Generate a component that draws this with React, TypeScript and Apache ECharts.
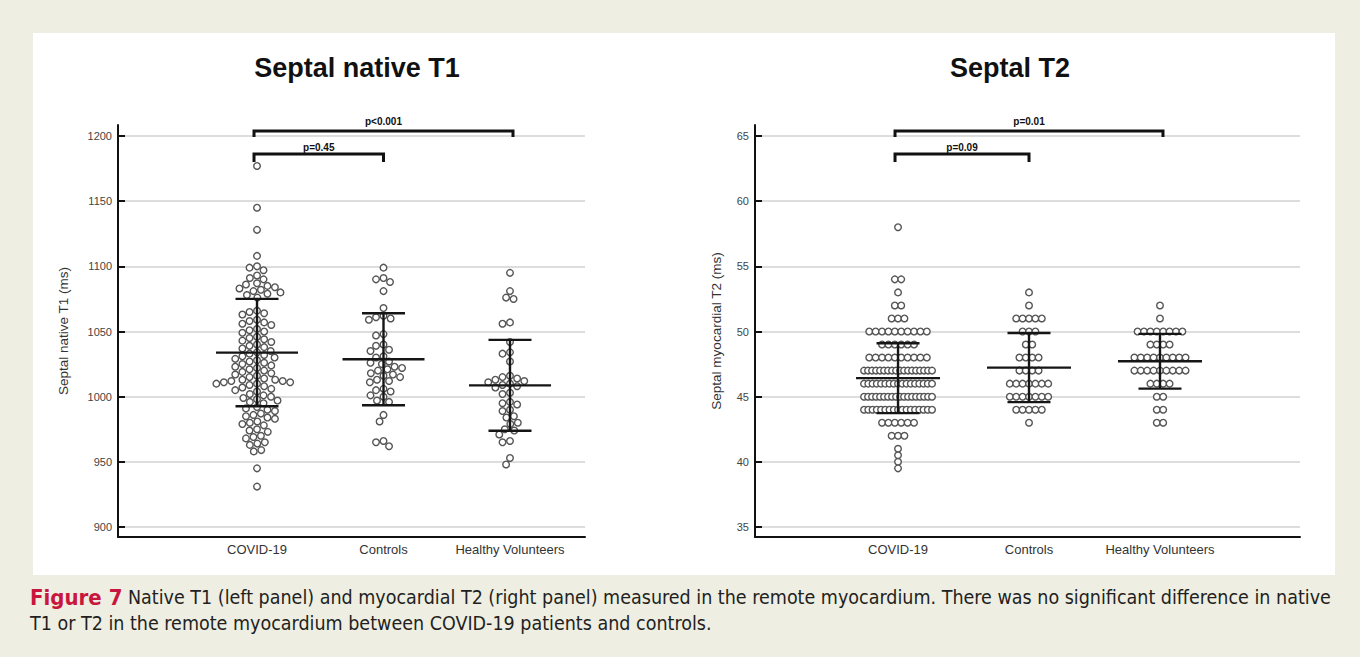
import React, { useEffect, useRef } from 'react';
import * as echarts from 'echarts';

const categories = ['COVID-19', 'Controls', 'Healthy Volunteers'];

// ---- Septal native T1 (ms): individual values
const t1Covid = [
  1177, 1145, 1128, 1108,
  1097, 1099, 1100,
  1090, 1091, 1093,
  1083, 1084, 1085, 1086, 1087,
  1076, 1078, 1079, 1080, 1081, 1082,
  1063, 1064, 1065, 1066,
  1055, 1056, 1057, 1058, 1059,
  1049, 1050, 1051, 1052,
  1042, 1043, 1044, 1045, 1046,
  1037, 1038, 1039, 1040,
  1030, 1031, 1032, 1033, 1034, 1035,
  1024, 1025, 1026, 1027, 1028, 1029,
  1018, 1019, 1020, 1021, 1022, 1023,
  1013, 1014, 1015, 1016, 1017,
  1009, 1010, 1010, 1011, 1011, 1012, 1012, 1013,
  1004, 1005, 1006, 1007, 1008,
  999, 1000, 1001, 1002,
  995, 996, 997, 998,
  989, 990, 991, 992,
  983, 984, 985, 986, 987,
  978, 979, 980, 981,
  973, 974, 975,
  968, 969, 970,
  963, 964, 965,
  958, 959,
  945, 931,
];
const t1Controls = [
  1099,
  1088, 1090, 1091,
  1081,
  1068,
  1059, 1060, 1061, 1062,
  1047, 1048,
  1039, 1040,
  1035, 1036,
  1030, 1031,
  1025, 1026, 1027,
  1020, 1021, 1022, 1023,
  1015, 1016, 1017, 1018,
  1011, 1012, 1013,
  1004, 1005, 1006,
  1000, 1001,
  996, 997,
  986,
  981,
  965, 966,
  962,
];
const t1Healthy = [
  1095,
  1081, 1075, 1076,
  1056, 1057,
  1042,
  1033, 1034,
  1027,
  1014, 1015, 1016,
  1010, 1011, 1012, 1013,
  1007, 1008, 1009,
  1002, 1003,
  994, 995, 996,
  989, 990,
  984, 985,
  979, 980,
  974, 975,
  971,
  965, 966,
  953,
  948,
];
const t1Mean = [1033.8, 1028.7, 1008.7];
const t1Sd = [41.2, 35.3, 34.9];
const t1Ticks = [900, 950, 1000, 1050, 1100, 1150, 1200];

// ---- Septal T2 (ms): distinct values and how many patients share each
const t2CovidValues = [58, 54, 53, 52, 51, 50, 49, 48, 47, 46, 45, 44, 43, 42, 41, 40.5, 40, 39.5];
const t2CovidCounts = [1, 2, 1, 2, 3, 10, 6, 10, 18, 17, 18, 17, 6, 3, 1, 1, 1, 1];
const t2ControlsValues = [53, 52, 51, 50, 49, 48, 47, 46, 45, 44, 43];
const t2ControlsCounts = [1, 1, 5, 3, 2, 4, 4, 7, 7, 5, 1];
const t2HealthyValues = [52, 51, 50, 49, 48, 47, 46, 45, 44, 43];
const t2HealthyCounts = [1, 1, 8, 4, 9, 9, 4, 2, 2, 2];
const t2Mean = [46.42, 47.23, 47.72];
const t2Sd = [2.68, 2.65, 2.1];
const t2Ticks = [35, 40, 45, 50, 55, 60, 65];

// ---- significance brackets
const t1Brackets = [
  { from: 1, to: 3, label: 'p<0.001' },
  { from: 1, to: 2, label: 'p=0.45' },
];
const t2Brackets = [
  { from: 1, to: 3, label: 'p=0.01' },
  { from: 1, to: 2, label: 'p=0.09' },
];

const titles = ['Septal native T1', 'Septal T2'];
const yNames = ['Septal native T1 (ms)', 'Septal myocardial T2 (ms)'];
const captionBold = 'Figure 7';
const captionLine1 =
  ' Native T1 (left panel) and myocardial T2 (right panel) measured in the remote myocardium. There was no significant difference in native';
const captionLine2 = 'T1 or T2 in the remote myocardium between COVID-19 patients and controls.';

// ---------------------------------------------------------------
const FONT = "'Liberation Sans', Arial, Helvetica, sans-serif";
const CAPTION_FONT = "'Liberation Sans Narrow', 'DejaVu Sans Condensed', 'Liberation Sans', sans-serif";
const R = 3.3;
const SWARM_D = 7.6;
const ROW_STEP = 6.4;
const ROW_MAX_SPAN = 68;

function expand(values: number[], counts: number[]) {
  const out: number[] = [];
  values.forEach((v, i) => {
    for (let k = 0; k < counts[i]; k++) out.push(v);
  });
  return out;
}

function swarmOffsets(ys: number[], d: number): number[] {
  const order = ys.map((_, i) => i).sort((a, b) => ys[a] - ys[b]);
  const placed: { x: number; y: number }[] = [];
  const out = new Array(ys.length).fill(0);
  for (const i of order) {
    const y = ys[i];
    const iv: [number, number][] = [];
    for (const p of placed) {
      const dy = Math.abs(p.y - y);
      if (dy < d) {
        const dx = Math.sqrt(d * d - dy * dy);
        iv.push([p.x - dx, p.x + dx]);
      }
    }
    const cands = [0];
    iv.forEach(([a, b]) => cands.push(a, b));
    cands.sort((a, b) => Math.abs(a) - Math.abs(b) || a - b);
    let chosen = 0;
    for (const c of cands) {
      if (iv.every(([a, b]) => c <= a + 1e-6 || c >= b - 1e-6)) {
        chosen = c;
        break;
      }
    }
    out[i] = chosen;
    placed.push({ x: chosen, y });
  }
  return out;
}

function rowOffsets(vals: number[]): number[] {
  const out = new Array(vals.length).fill(0);
  const groups = new Map<number, number[]>();
  vals.forEach((v, i) => {
    if (!groups.has(v)) groups.set(v, []);
    groups.get(v)!.push(i);
  });
  groups.forEach((idx) => {
    const n = idx.length;
    const step = n > 1 ? Math.min(ROW_STEP, ROW_MAX_SPAN / (n - 1)) : 0;
    idx.forEach((i, k) => {
      out[i] = (k - (n - 1) / 2) * step;
    });
  });
  return out;
}

function pointsSeries(panel: number, groups: number[][], mode: 'swarm' | 'rows') {
  const data: number[][] = [];
  groups.forEach((vals, gi) => vals.forEach((v) => data.push([gi + 1, v])));
  let offsets: number[] | null = null;
  return {
    type: 'custom',
    xAxisIndex: panel,
    yAxisIndex: panel,
    data,
    z: 3,
    silent: true,
    clip: false,
    renderItem: (params: any, api: any) => {
      if (!offsets) {
        const off = new Array(data.length).fill(0);
        groups.forEach((_, gi) => {
          const idx = data.map((_, i) => i).filter((i) => data[i][0] === gi + 1);
          const res =
            mode === 'swarm'
              ? swarmOffsets(idx.map((i) => api.coord([data[i][0], data[i][1]])[1]), SWARM_D)
              : rowOffsets(idx.map((i) => data[i][1]));
          idx.forEach((i, k) => (off[i] = res[k]));
        });
        offsets = off;
      }
      const p = api.coord([api.value(0), api.value(1)]);
      return {
        type: 'circle',
        shape: { cx: p[0] + offsets[params.dataIndex], cy: p[1], r: R },
        style: { fill: '#ffffff', stroke: '#555555', lineWidth: 1.4 },
      };
    },
  };
}

function errorSeries(panel: number, means: number[], sds: number[], halfMean: number, halfCap: number) {
  return {
    type: 'custom',
    xAxisIndex: panel,
    yAxisIndex: panel,
    z: 5,
    silent: true,
    data: means.map((m, i) => [i + 1, m, sds[i]]),
    renderItem: (_params: any, api: any) => {
      const c = api.value(0);
      const m = api.value(1);
      const s = api.value(2);
      const pm = api.coord([c, m]);
      const pt = api.coord([c, m + s]);
      const pb = api.coord([c, m - s]);
      const st = { stroke: '#151515', lineWidth: 2.4 };
      return {
        type: 'group',
        children: [
          { type: 'line', shape: { x1: pm[0] - halfMean, y1: pm[1], x2: pm[0] + halfMean, y2: pm[1] }, style: st },
          { type: 'line', shape: { x1: pm[0], y1: pt[1], x2: pm[0], y2: pb[1] }, style: st },
          { type: 'line', shape: { x1: pm[0] - halfCap, y1: pt[1], x2: pm[0] + halfCap, y2: pt[1] }, style: st },
          { type: 'line', shape: { x1: pm[0] - halfCap, y1: pb[1], x2: pm[0] + halfCap, y2: pb[1] }, style: st },
        ],
      };
    },
  };
}

// bracket level geometry: bar offset below grid top, leg length, label offset
const BRACKET_LEVELS = [
  { bar: 6, leg: 6, text: -10 },
  { bar: 29, leg: 8, text: -6.5 },
];

function bracketSeries(panel: number, brackets: { from: number; to: number; label: string }[], yMax: number) {
  return {
    type: 'custom',
    xAxisIndex: panel,
    yAxisIndex: panel,
    z: 6,
    silent: true,
    clip: false,
    data: brackets.map((b) => [b.from, b.to]),
    renderItem: (params: any, api: any) => {
      const b = brackets[params.dataIndex];
      const lv = BRACKET_LEVELS[params.dataIndex];
      const top = api.coord([b.from, yMax])[1];
      const x1 = api.coord([b.from, yMax])[0] - 3;
      const x2 = api.coord([b.to, yMax])[0] + (b.to === 3 ? 3 : 0);
      const yb = top + lv.bar;
      return {
        type: 'group',
        children: [
          {
            type: 'polyline',
            shape: { points: [[x1, yb + lv.leg], [x1, yb], [x2, yb], [x2, yb + lv.leg]] },
            style: { stroke: '#111', lineWidth: 3, fill: 'none' },
          },
          {
            type: 'text',
            style: {
              x: (x1 + x2) / 2,
              y: yb + lv.text,
              text: b.label,
              textAlign: 'center',
              textVerticalAlign: 'middle',
              font: `bold 10px ${FONT}`,
              fill: '#111',
            },
          },
        ],
      };
    },
  };
}

function makeX(gridIndex: number, min: number, max: number) {
  return {
    type: 'value',
    gridIndex,
    min,
    max,
    axisLine: { show: true, onZero: false, lineStyle: { color: '#111', width: 2 } },
    axisTick: { show: false, customValues: [1, 2, 3] },
    splitLine: { show: false },
    axisLabel: {
      customValues: [1, 2, 3],
      formatter: (v: number) => categories[Math.round(v) - 1] ?? '',
      fontSize: 13,
      color: '#333',
      margin: 6,
      fontFamily: FONT,
    },
  };
}

function makeY(gridIndex: number, min: number, max: number, ticks: number[], name: string, nameGap: number) {
  return {
    type: 'value',
    gridIndex,
    min,
    max,
    name,
    nameLocation: 'middle',
    nameGap,
    nameTextStyle: { fontSize: 13.5, color: '#333', fontFamily: FONT },
    axisLine: { show: true, onZero: false, lineStyle: { color: '#111', width: 2 } },
    axisTick: { show: true, inside: true, length: 7, customValues: ticks, lineStyle: { color: '#111', width: 2 } },
    axisLabel: {
      customValues: ticks,
      formatter: (v: number) => String(v),
      fontSize: 11,
      color: '#444',
      margin: 6,
      fontFamily: FONT,
    },
    splitLine: { show: true, lineStyle: { color: '#d2d2d2', width: 1.5 } },
  };
}

const T1_MIN = 892.33;
const T1_MAX = 1208.44;
const T2_MIN = 34.233;
const T2_MAX = 65.844;

function buildOption() {
  return {
    animation: false,
    backgroundColor: '#eeeee3',
    grid: [
      { left: 118, top: 125, width: 467, height: 412 },
      { left: 755, top: 125, width: 545, height: 412 },
    ],
    xAxis: [makeX(0, -0.099, 3.593), makeX(1, -0.092, 4.069)],
    yAxis: [
      makeY(0, T1_MIN, T1_MAX, t1Ticks, yNames[0], 48),
      makeY(1, T2_MIN, T2_MAX, t2Ticks, yNames[1], 32),
    ],
    graphic: [
      { type: 'rect', z: -10, shape: { x: 33, y: 33, width: 1302, height: 542 }, style: { fill: '#ffffff' } },
      {
        type: 'text',
        x: 357,
        y: 68,
        style: { text: titles[0], textAlign: 'center', textVerticalAlign: 'middle', font: `bold 27px ${FONT}`, fill: '#111' },
      },
      {
        type: 'text',
        x: 1010,
        y: 68,
        style: { text: titles[1], textAlign: 'center', textVerticalAlign: 'middle', font: `bold 27px ${FONT}`, fill: '#111' },
      },
      {
        type: 'text',
        x: 30,
        y: 597,
        style: {
          text: `{b|${captionBold}}{n|${captionLine1}}`,
          textVerticalAlign: 'middle',
          rich: {
            b: { font: `bold 22px ${CAPTION_FONT}`, fill: '#c8163c' },
            n: { font: `19.5px ${CAPTION_FONT}`, fill: '#231f20' },
          },
        },
      },
      {
        type: 'text',
        x: 30,
        y: 623,
        style: { text: captionLine2, textVerticalAlign: 'middle', font: `19.5px ${CAPTION_FONT}`, fill: '#231f20' },
      },
    ],
    series: [
      pointsSeries(0, [t1Covid, t1Controls, t1Healthy], 'swarm'),
      errorSeries(0, t1Mean, t1Sd, 41, 21.5),
      bracketSeries(0, t1Brackets, T1_MAX),
      pointsSeries(
        1,
        [
          expand(t2CovidValues, t2CovidCounts),
          expand(t2ControlsValues, t2ControlsCounts),
          expand(t2HealthyValues, t2HealthyCounts),
        ],
        'rows'
      ),
      errorSeries(1, t2Mean, t2Sd, 42, 21.5),
      bracketSeries(1, t2Brackets, T2_MAX),
    ],
  };
}

export default function App() {
  const ref = useRef<HTMLDivElement>(null);
  useEffect(() => {
    document.body.style.margin = '0';
    const chart = echarts.init(ref.current!, null, { renderer: 'svg', width: 1360, height: 657 });
    chart.setOption(buildOption() as any);
    return () => chart.dispose();
  }, []);
  return <div ref={ref} style={{ width: 1360, height: 657 }} />;
}
